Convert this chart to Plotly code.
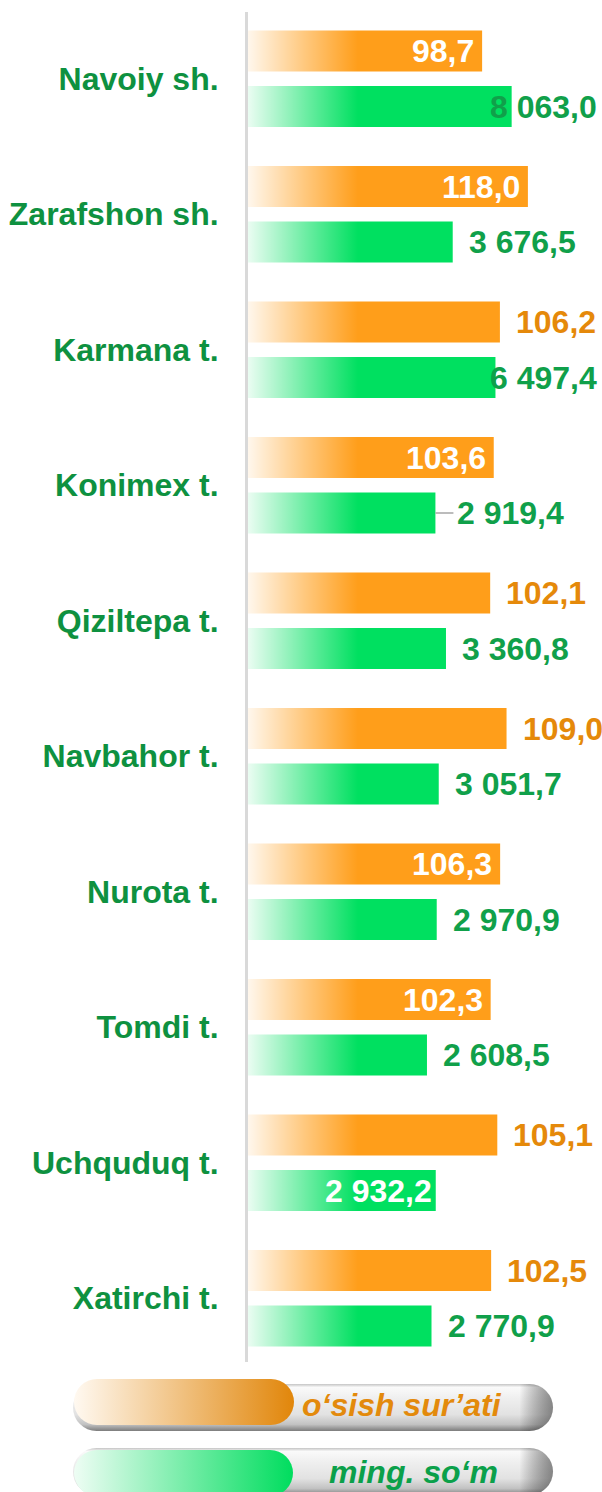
import base64
import numpy as np
import plotly.graph_objects as go

# ---------------- data ----------------
categories = ["Navoiy sh.", "Zarafshon sh.", "Karmana t.", "Konimex t.", "Qiziltepa t.",
              "Navbahor t.", "Nurota t.", "Tomdi t.", "Uchquduq t.", "Xatirchi t."]
growth = [98.7, 118.0, 106.2, 103.6, 102.1, 109.0, 106.3, 102.3, 105.1, 102.5]      # o‘sish sur’ati
income = [8063.0, 3676.5, 6497.4, 2919.4, 3360.8, 3051.7, 2970.9, 2608.5, 2932.2, 2770.9]  # ming. so‘m
legend_names = ["o‘sish sur’ati", "ming. so‘m"]

# label placement styles
growth_label_mode = ["in", "in", "out", "in", "out", "out", "in", "in", "out", "out"]
income_label_mode = ["edge", "out", "edge", "leader", "out", "out", "out", "out", "in", "out"]

# ---------------- style ----------------
W, H = 602, 1492
ML, MR, MT, MB = 248, 0, 12, 130
PW, PH = W - ML - MR, H - MT - MB
FONT = "Liberation Sans, Arial, sans-serif"
ORANGE = "#FF9E1A"
GREEN = "#00E060"
ORANGE_TXT = "#E5890A"
GREEN_TXT = "#10A04A"
CAT_TXT = "#0E9140"
FS = 32


def fmt(v):
    s = f"{v:,.1f}"
    return s.replace(",", " ").replace(".", ",")


def px_x(p):
    return (p - ML) / PW


def px_y(p):
    return (MT + PH - p) / PH


idx = list(range(len(categories)))
BW = 0.3026
OFF_O = -0.356
OFF_G = 0.054

fig = go.Figure()
fig.add_trace(go.Bar(
    y=idx, x=growth, orientation="h", xaxis="x", yaxis="y",
    marker=dict(color=ORANGE, line=dict(width=0)), width=BW, offset=OFF_O,
    name=legend_names[0], hoverinfo="x+y",
))
fig.add_trace(go.Bar(
    y=idx, x=income, orientation="h", xaxis="x2", yaxis="y",
    marker=dict(color=GREEN, line=dict(width=0)), width=BW, offset=OFF_G,
    name=legend_names[1], hoverinfo="x+y",
))

annotations = []
for i, (v, m) in enumerate(zip(growth, growth_label_mode)):
    yc = i + OFF_O + BW / 2
    if m == "in":
        annotations.append(dict(x=v, y=yc, xref="x", yref="y", text=fmt(v), showarrow=False,
                                xanchor="right", xshift=-6,
                                font=dict(family=FONT, size=FS, color="white", weight="bold")))
    else:
        annotations.append(dict(x=v, y=yc, xref="x", yref="y", text=fmt(v), showarrow=False,
                                xanchor="left", xshift=14,
                                font=dict(family=FONT, size=FS, color=ORANGE_TXT, weight="bold")))

for i, (v, m) in enumerate(zip(income, income_label_mode)):
    yc = i + OFF_G + BW / 2
    lv = float(np.log10(v))
    if m == "in":
        annotations.append(dict(x=lv, y=yc, xref="x2", yref="y", text=fmt(v), showarrow=False,
                                xanchor="right", xshift=-2,
                                font=dict(family=FONT, size=FS, color="white", weight="bold")))
    elif m == "edge":
        annotations.append(dict(x=1, y=yc, xref="paper", yref="y", text=fmt(v), showarrow=False,
                                xanchor="right", xshift=-3,
                                font=dict(family=FONT, size=FS, color=GREEN_TXT, weight="bold")))
    elif m == "leader":
        annotations.append(dict(x=lv, y=yc, xref="x2", yref="y", text=fmt(v), showarrow=True,
                                ax=20, ay=0, axref="pixel", ayref="pixel", xanchor="left",
                                arrowhead=0, arrowwidth=1.5, arrowcolor="#A6A6A6", startstandoff=2,
                                font=dict(family=FONT, size=FS, color=GREEN_TXT, weight="bold")))
    else:
        annotations.append(dict(x=lv, y=yc, xref="x2", yref="y", text=fmt(v), showarrow=False,
                                xanchor="left", xshift=14,
                                font=dict(family=FONT, size=FS, color=GREEN_TXT, weight="bold")))

# legend texts
annotations.append(dict(x=px_x(402), y=px_y(1405), xref="paper", yref="paper", text=legend_names[0],
                        showarrow=False, xanchor="center", yanchor="middle",
                        font=dict(family=FONT, size=FS, color="#E38A0C", weight="bold", style="italic")))
annotations.append(dict(x=px_x(413), y=px_y(1472), xref="paper", yref="paper", text=legend_names[1],
                        showarrow=False, xanchor="center", yanchor="middle",
                        font=dict(family=FONT, size=FS, color="#0BA04A", weight="bold", style="italic")))


def svg_uri(svg):
    return "data:image/svg+xml;base64," + base64.b64encode(svg.encode("utf-8")).decode("ascii")


# white fade overlay for bar gradients
fade_svg = """<svg xmlns='http://www.w3.org/2000/svg' width='100' height='100' viewBox='0 0 100 100' preserveAspectRatio='none'>
<defs><linearGradient id='f' x1='0' y1='0' x2='1' y2='0'>
<stop offset='0' stop-color='white' stop-opacity='0.92'/>
<stop offset='0.5' stop-color='white' stop-opacity='0.45'/>
<stop offset='1' stop-color='white' stop-opacity='0'/>
</linearGradient></defs>
<rect x='0' y='0' width='100' height='100' fill='url(#f)'/></svg>"""

legend_svg = f"""<svg xmlns='http://www.w3.org/2000/svg' width='{W}' height='{H}' viewBox='0 0 {W} {H}'>
<defs>
<linearGradient id='gp' x1='0' y1='0' x2='0' y2='1'>
<stop offset='0' stop-color='#C4C4C4'/><stop offset='0.07' stop-color='#FAFAFA'/>
<stop offset='0.3' stop-color='#EFEFEF'/><stop offset='0.65' stop-color='#E2E2E2'/>
<stop offset='0.86' stop-color='#C2C2C2'/><stop offset='1' stop-color='#7C7C7C'/>
</linearGradient>
<linearGradient id='gr' x1='0' y1='0' x2='1' y2='0'>
<stop offset='0' stop-color='#000' stop-opacity='0'/><stop offset='0.93' stop-color='#000' stop-opacity='0'/>
<stop offset='1' stop-color='#333' stop-opacity='0.55'/>
</linearGradient>
<linearGradient id='go' x1='0' y1='0' x2='1' y2='0'>
<stop offset='0' stop-color='#FFF9F1'/><stop offset='1' stop-color='#E1860A'/>
</linearGradient>
<linearGradient id='gg' x1='0' y1='0' x2='1' y2='0'>
<stop offset='0' stop-color='#EEFDF4'/><stop offset='1' stop-color='#00DD5E'/>
</linearGradient>
</defs>
<rect x='73' y='1384' width='480' height='47' rx='23.5' fill='url(#gp)'/>
<rect x='73' y='1384' width='480' height='47' rx='23.5' fill='url(#gr)'/>
<rect x='74' y='1379' width='220' height='46' rx='23' fill='url(#go)'/>
<rect x='73' y='1448' width='480' height='47' rx='23.5' fill='url(#gp)'/>
<rect x='73' y='1448' width='480' height='47' rx='23.5' fill='url(#gr)'/>
<rect x='74' y='1450' width='219' height='46' rx='23' fill='url(#gg)'/>
</svg>"""

images = [
    dict(source=svg_uri(fade_svg), xref="paper", yref="paper", x=0, y=1, sizex=110 / PW, sizey=1,
         xanchor="left", yanchor="top", sizing="stretch", layer="above"),
    dict(source=svg_uri(legend_svg), xref="paper", yref="paper", x=px_x(0), y=px_y(0),
         sizex=W / PW, sizey=H / PH, xanchor="left", yanchor="top", sizing="stretch", layer="above"),
]

# axes
o_px_per_unit = 2.372
log_lo, log_px_per_dec = 2.3807, 172.8

fig.update_layout(
    width=W, height=H,
    margin=dict(l=ML, r=MR, t=MT, b=MB),
    paper_bgcolor="white", plot_bgcolor="white",
    showlegend=False, barmode="overlay",
    xaxis=dict(range=[0, PW / o_px_per_unit], visible=False, fixedrange=True),
    xaxis2=dict(type="log", range=[log_lo, log_lo + PW / log_px_per_dec], overlaying="x",
                visible=False, fixedrange=True),
    yaxis=dict(range=[len(categories) - 1 + 0.4705, -0.4926], tickvals=idx, ticktext=categories,
               showgrid=False, zeroline=False, showline=True, linecolor="#D9D9D9", linewidth=3,
               ticks="outside", ticklen=20, tickcolor="rgba(0,0,0,0)",
               tickfont=dict(family=FONT, size=FS, color=CAT_TXT, weight="bold"), fixedrange=True),
    annotations=annotations,
    images=images,
)

fig.write_html(
    "out.html",
    config={"displayModeBar": False},
    post_script="document.body.style.margin='0';document.body.style.overflow='hidden';",
)
